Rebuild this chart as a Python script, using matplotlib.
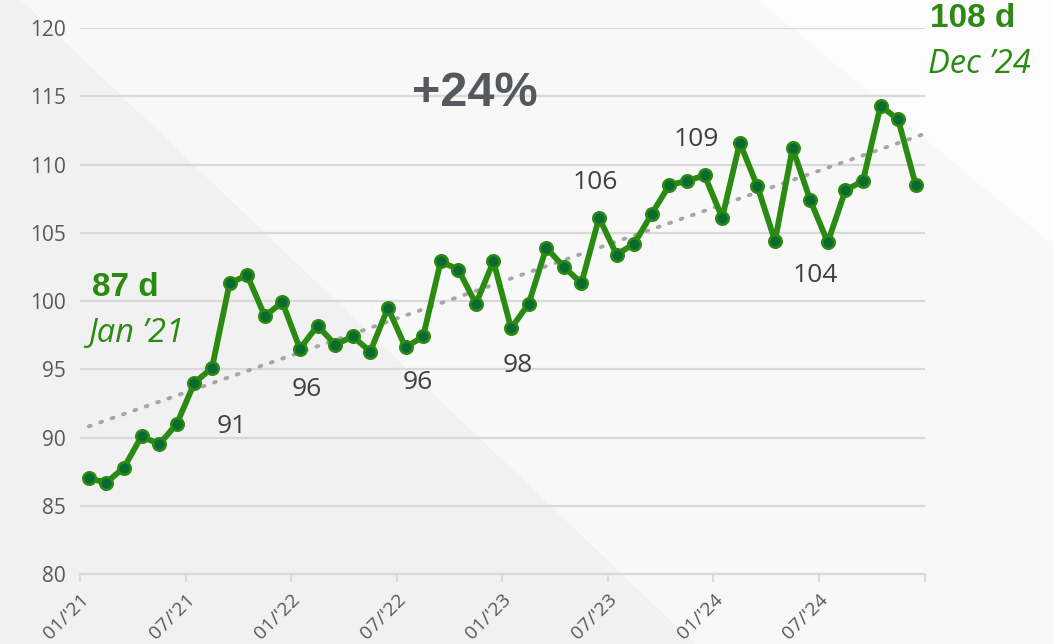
import numpy as np
import matplotlib
matplotlib.use("Agg")
import matplotlib.pyplot as plt
from matplotlib.patches import Polygon

# monthly values, Jan '21 .. Dec '24
values = [87.0, 86.7, 87.8, 90.1, 89.5, 91.0, 94.0, 95.1, 101.3, 101.9, 98.9, 99.9,
          96.5, 98.2, 96.8, 97.4, 96.3, 99.5, 96.6, 97.4, 102.9, 102.3, 99.8, 102.9,
          98.0, 99.8, 103.9, 102.5, 101.3, 106.1, 103.4, 104.2, 106.4, 108.5, 108.8, 109.2,
          106.1, 111.6, 108.4, 104.4, 111.2, 107.4, 104.3, 108.1, 108.8, 114.3, 113.3, 108.5]
tick_labels = ["01/'21", "07/'21", "01/'22", "07/'22", "01/'23", "07/'23", "01/'24", "07/'24", ""]
y_ticks = [80, 85, 90, 95, 100, 105, 110, 115, 120]

# callout labels: (text, x index, y value)
callouts = [("91", 8.1, 90.8), ("96", 12.4, 93.5), ("96", 18.7, 94.0), ("98", 24.4, 95.3),
            ("106", 28.8, 108.7), ("109", 34.5, 111.8), ("104", 41.3, 101.9)]

green = "#2b8a12"
dark_green = "#0b6a32"
gray_txt = "#595959"

fig = plt.figure(figsize=(10.53, 6.44), dpi=100)
fig.patch.set_facecolor("#f1f1f1")

# background shapes on their own axes, behind everything
bg = fig.add_axes([0, 0, 1, 1], zorder=-10)
bg.set_xlim(0, 1)
bg.set_ylim(0, 1)
bg.axis("off")
bg.add_patch(Polygon([[0.02, 1.0], [1.0, 1.0], [1.0, 0.0], [0.66, 0.0]], closed=True,
                     facecolor="#f8f8f8", edgecolor="none"))
bg.add_patch(Polygon([[0.72, 1.0], [1.0, 1.0], [1.0, 0.62]], closed=True,
                     facecolor="#fcfcfc", edgecolor="none"))

ax = fig.add_axes([0.076, 0.1087, 0.802, 0.8478], zorder=1)
ax.set_facecolor("none")

x = np.arange(len(values))
ax.set_xlim(-0.5, len(values) - 0.5)
ax.set_ylim(80, 120)

# grid
ax.set_yticks(y_ticks)
ax.yaxis.grid(True, color="#d9d9d9", linewidth=1.6)
ax.set_axisbelow(True)
for s in ["top", "right", "left"]:
    ax.spines[s].set_visible(False)
ax.spines["bottom"].set_color("#d9d9d9")
ax.spines["bottom"].set_linewidth(1.6)
ax.tick_params(axis="y", length=0, labelsize=15, labelcolor=gray_txt, pad=10)
ax.set_yticklabels([str(v) for v in y_ticks], family="Open Sans")

xt = np.arange(-0.5, len(values) + 0.5, 6)
ax.set_xticks(xt)
ax.set_xticklabels(tick_labels, rotation=45, ha="right", va="top", rotation_mode="anchor",
                   family="Open Sans", fontsize=14, color=gray_txt)
ax.tick_params(axis="x", length=6, color="#d9d9d9", width=1.4, pad=6)

# trend line
coef = np.polyfit(x, values, 1)
tx = np.array([0, len(values) - 0.5])
ax.plot(tx, np.polyval(coef, tx), linestyle=(0, (0.5, 2.6)), color="#a6a6a6",
        linewidth=2.8, dash_capstyle="round", zorder=2)

ax.plot(x, values, color=green, linewidth=4.2, marker="o", markersize=9,
        markerfacecolor=dark_green, markeredgecolor=green, markeredgewidth=1.8, zorder=3)

for txt, cx, cy in callouts:
    ax.text(cx, cy, txt, ha="center", va="center", fontsize=19, color="#404040", family="Open Sans")

ax.text(21.96, 115.2, "+24%", ha="center", va="center", fontsize=35, fontweight="bold",
        color="#55585c", family="Liberation Sans")
ax.text(0.2, 101.0, "87 d", ha="left", va="center", fontsize=24, fontweight="bold",
        color=green, family="Liberation Sans")
ax.text(-0.05, 97.6, "Jan \u201921", ha="left", va="center", fontsize=23.5, style="italic",
        color=green, family="Open Sans")
ax.text(47.8, 120.7, "108 d", ha="left", va="center", fontsize=24, fontweight="bold",
        color=green, family="Liberation Sans", clip_on=False)
ax.text(47.7, 117.3, "Dec \u201924", ha="left", va="center", fontsize=23.5, style="italic",
        color=green, family="Open Sans", clip_on=False)

fig.savefig("out.png", dpi=100, facecolor=fig.get_facecolor())
